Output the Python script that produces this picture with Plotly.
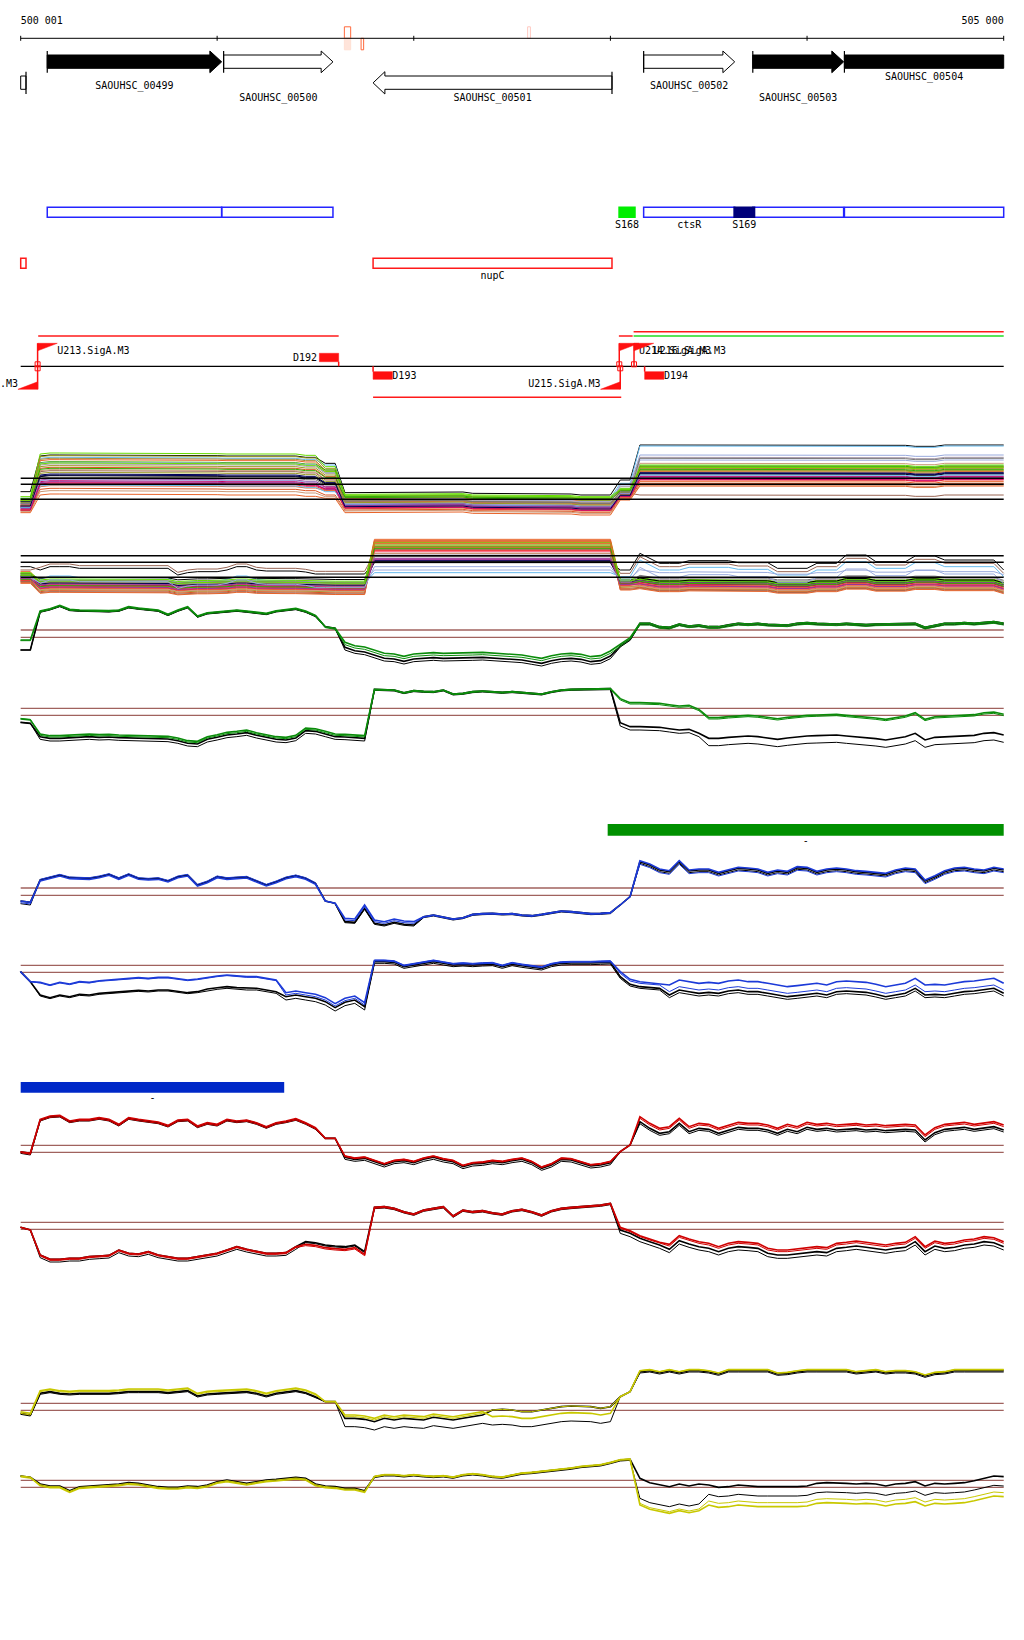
import plotly.graph_objects as go

W, H = 1024, 1640

# ============================ DATA ============================
VIEW_START, VIEW_END = 500001, 505000
RULER_TICKS = [500001, 501000, 502000, 503000, 504000, 505000]

MARK_STARTS = [501647, 501647, 501732, 502579]
MARK_ENDS = [501679, 501679, 501745, 502593]
MARK_SIDES = ["+", "-", "-", "+"]

GENE_NAMES = ["", "SAOUHSC_00499", "SAOUHSC_00500", "SAOUHSC_00501",
              "SAOUHSC_00502", "SAOUHSC_00503", "SAOUHSC_00504"]
GENE_STARTS = [499400, 500136, 501033, 501793, 503169, 503724, 504190]
GENE_ENDS = [500028, 501023, 501589, 503008, 503632, 504186, 505600]
GENE_STRANDS = ["-", "+", "+", "-", "+", "+", "+"]
GENE_FILLED = [False, True, False, False, False, True, True]

FEAT_NAMES = ["", "", "ctsR", "", "", "", "nupC", "S168", "S169"]
FEAT_STARTS = [500136, 501023, 503169, 503724, 504190, 499900, 501793, 503044, 503629]
FEAT_ENDS = [501023, 501589, 503632, 504186, 505600, 500028, 503008, 503125, 503733]
FEAT_KINDS = ["cds", "cds", "cds", "cds", "cds", "rna", "rna", "srna_a", "srna_b"]

TSS_POS = [500087, 500087, 503045, 503050, 503120]
TSS_STRAND = ["+", "-", "+", "-", "+"]
TSS_NAMES = ["U213.SigA.M3", "U212.SigA.M3", "U214.SigA.M3", "U215.SigA.M3", "U216.SigA.M3"]

TERM_POS = [501618, 501793, 503174]
TERM_STRAND = ["+", "-", "-"]
TERM_NAMES = ["D192", "D193", "D194"]

TU_STARTS = [500090, 501793, 503043, 503118, 503118]
TU_ENDS = [501618, 503055, 503113, 505000, 505000]
TU_LEVEL = [1, -1, 1, 2, 1]
TU_SOURCE = ["a", "a", "a", "a", "b"]

SIG_BAR_STARTS = [502986, 500001]
SIG_BAR_ENDS = [505000, 501341]
SIG_BAR_LABELS = ["-", "-"]

# signal bins (50 bp)
BIN_X = [500000 + 50 * i for i in range(101)]

G1_BASE = [70, 70, 185, 192, 202, 190, 188, 187, 185, 186,
           188, 198, 194, 190, 188, 175, 188, 198, 170, 180,
           182, 184, 188, 185, 182, 178, 186, 190, 193, 185,
           172, 140, 135, 78, 68, 64, 55, 45, 43, 36,
           43, 46, 47, 45, 45, 45, 47, 48, 46, 45,
           44, 40, 35, 30, 38, 43, 45, 42, 35, 38,
           52, 82, 102, 150, 150, 140, 138, 148, 142, 145,
           140, 140, 146, 150, 148, 150, 147, 146, 145, 150,
           152, 150, 148, 148, 150, 147, 146, 148, 148, 150,
           150, 150, 138, 145, 150, 150, 152, 150, 153, 155,
           150]
G1_EDGES = [2, 31, 33, 61, 63]
G1_OFFSETS = [[0, 0, 0, 0, 0, 0], [0, -2, 0, -8, -3, -4],
              [28, -1, -3, 8, 0, -5], [30, 2, 0, 15, 5, 0]]
G1_THRESH = [130, 108]

G2_BASE = [103, 100, 60, 55, 55, 56, 58, 60, 58, 59,
           57, 56, 55, 55, 54, 53, 48, 40, 38, 52,
           58, 65, 68, 72, 64, 58, 52, 50, 56, 78,
           76, 68, 60, 59, 57, 55, 202, 200, 200, 192,
           198, 196, 195, 200, 188, 190, 195, 197, 194, 193,
           195, 192, 190, 188, 195, 200, 202, 202, 202, 203,
           204, 102, 90, 90, 90, 88, 84, 80, 82, 70,
           55, 55, 58, 60, 62, 60, 56, 52, 56, 60,
           62, 63, 64, 65, 62, 60, 57, 54, 50, 54,
           60, 70, 50, 58, 60, 60, 62, 64, 70, 72,
           65]
G2_EDGES = [2, 36, 61, 70]
G2_OFFSETS = [[0, 0, 0, 0, 0], [0, -8, -3, -10, -22],
              [12, 4, -2, 68, 58], [10, 8, 0, 72, 62]]
G2_THRESH = [145, 124]

B1_BASE = [142, 138, 205, 212, 220, 212, 212, 210, 215, 222,
           210, 222, 210, 208, 210, 202, 215, 220, 190, 200,
           215, 210, 212, 214, 202, 190, 200, 212, 218, 210,
           195, 142, 135, 80, 78, 120, 75, 70, 78, 72,
           70, 95, 100, 95, 88, 92, 102, 104, 105, 103,
           104, 100, 98, 102, 106, 112, 110, 108, 104, 105,
           107, 130, 155, 260, 250, 235, 230, 260, 232, 235,
           235, 225, 232, 240, 238, 235, 225, 232, 228, 242,
           240, 228, 235, 238, 235, 230, 228, 225, 222, 232,
           238, 235, 202, 215, 230, 238, 240, 235, 232, 240,
           235]
B1_EDGES = [2, 31, 33, 41, 61, 63]
B1_OFFSETS = [[0, 0, 0, 0, 0, 0, 0], [-8, 0, 0, -3, -3, 0, -5],
              [-5, 2, 0, 5, -2, 0, -8], [0, -3, 0, 10, 0, 0, 3]]
B1_THRESH = [181, 159]

B2_BASE = [130, 100, 60, 52, 60, 55, 62, 60, 65, 67,
           70, 72, 74, 72, 75, 75, 72, 67, 70, 78,
           82, 85, 82, 80, 80, 75, 70, 55, 60, 55,
           50, 40, 22, 38, 45, 25, 160, 160, 158, 145,
           150, 155, 160, 155, 150, 152, 150, 152, 153, 145,
           153, 148, 145, 140, 150, 155, 156, 155, 156, 157,
           158, 115, 92, 85, 82, 80, 60, 75, 70, 65,
           68, 65, 72, 75, 70, 70, 65, 60, 55, 58,
           62, 65, 60, 70, 72, 70, 68, 62, 55, 60,
           65, 80, 60, 62, 60, 65, 70, 72, 75, 80,
           65]
B2_EDGES = [2, 19, 27, 36, 61, 66]
B2_OFFSETS = [[0, 0, 0, 0, 0, 0, 0], [0, -3, -5, -10, -5, -5, -8],
              [0, 36, 33, 5, 5, 10, 10], [0, 38, 35, 12, 3, 15, 30]]
B2_THRESH = [149, 128]

R1_BASE = [105, 100, 200, 210, 212, 195, 200, 200, 205, 200,
           185, 205, 200, 195, 192, 182, 198, 200, 180, 190,
           185, 200, 195, 198, 190, 178, 190, 195, 202, 190,
           175, 145, 145, 88, 82, 85, 75, 65, 75, 78,
           72, 82, 88, 80, 75, 60, 68, 70, 75, 72,
           78, 82, 72, 55, 65, 82, 80, 70, 62, 65,
           72, 105, 125, 195, 175, 160, 165, 190, 165, 175,
           172, 160, 170, 178, 175, 175, 170, 160, 172, 165,
           178, 172, 175, 170, 172, 174, 170, 172, 168, 170,
           172, 170, 140, 162, 172, 175, 178, 172, 175, 180,
           170]
R1_EDGES = [2, 31, 33, 61, 63]
R1_OFFSETS = [[0, 0, 0, 0, 0, 0], [-5, -3, 0, -6, 0, -6],
              [-3, -2, 0, 5, 0, 10], [0, 2, 0, 3, 0, 15]]
R1_THRESH = [124, 103]

R2_BASE = [128, 120, 45, 32, 32, 35, 35, 40, 42, 44,
           60, 50, 48, 55, 45, 40, 35, 35, 40, 45,
           50, 60, 70, 62, 55, 50, 50, 52, 70, 85,
           82, 75, 72, 70, 75, 55, 188, 190, 185, 175,
           168, 180, 185, 190, 162, 180, 175, 178, 172, 168,
           178, 182, 175, 165, 178, 185, 188, 190, 192, 195,
           200, 120, 110, 95, 85, 75, 62, 88, 78, 70,
           65, 55, 65, 70, 68, 65, 50, 45, 45, 48,
           52, 55, 52, 65, 68, 72, 68, 65, 60, 65,
           68, 85, 55, 72, 65, 68, 75, 78, 85, 82,
           70]
R2_EDGES = [2, 29, 36, 61, 66]
R2_OFFSETS = [[0, 0, 0, 0, 0, 0], [0, -8, -3, -4, -10, -10],
              [0, -3, -12, -3, 5, 10], [0, 0, -8, 0, 8, 15]]
R2_THRESH = [143, 122]

Y1_BASE = [90, 85, 150, 155, 150, 148, 150, 150, 148, 150,
           152, 155, 155, 155, 155, 152, 155, 158, 142, 148,
           150, 152, 155, 155, 150, 142, 150, 155, 158, 152,
           140, 125, 125, 75, 75, 72, 65, 75, 70, 75,
           72, 70, 78, 75, 70, 75, 80, 85, 100, 102,
           100, 95, 95, 100, 105, 110, 112, 112, 110, 105,
           110, 140, 155, 215, 218, 212, 218, 212, 218, 218,
           215, 208, 218, 218, 218, 218, 218, 208, 210, 215,
           218, 218, 218, 218, 218, 212, 215, 218, 212, 215,
           215, 212, 202, 210, 212, 218, 218, 218, 218, 218,
           218]
Y1_EDGES = [2, 31, 33, 48, 61, 63]
Y1_OFFSETS = [[0, 0, 0, 0, 0, 0, 0], [-3, -3, 0, -25, -45, 0, -4],
              [0, 5, 0, 5, 0, 0, 3], [5, 8, 0, 10, -20, 0, 3]]
Y1_THRESH = [120, 99]

Y2_BASE = [152, 148, 128, 122, 122, 108, 120, 122, 125, 125,
           128, 132, 130, 125, 120, 118, 118, 122, 120, 125,
           135, 140, 135, 130, 135, 140, 142, 145, 148, 145,
           128, 122, 120, 115, 115, 108, 150, 155, 155, 152,
           155, 152, 150, 152, 148, 155, 158, 155, 150, 148,
           155, 160, 162, 165, 168, 172, 175, 180, 182, 185,
           192, 200, 202, 145, 132, 125, 120, 128, 122, 128,
           125, 118, 120, 125, 122, 120, 120, 120, 118, 120,
           122, 130, 132, 132, 130, 128, 130, 128, 122, 128,
           130, 135, 122, 130, 128, 130, 132, 138, 145, 152,
           150]
Y2_EDGES = [2, 36, 63, 70]
Y2_OFFSETS = [[0, 0, 0, 0, 0], [0, -3, -3, -60, -28],
              [-3, -2, 2, -75, -48], [0, -5, 0, -80, -60]]
Y2_THRESH = [139, 118]

# multi-sample tracks: shared wiggle + per-sample segment levels
T1_WIGGLE = [0, 0, 0, 3, 3, 3, 3, 3, 3, 3, 3, 1, 1, 1, 1, 1, 1, 1, 1, 1, 1,
             0, 0, 0, 0, 0, 0, 0, 0, -4, -4, 0, 0, 2, 2, 2, 2, 2, 2,
             4, 4, 4, 4, 4, 4, 4, 0, 0, 0, 0, 0, 0, 0, -2, -2, -2, -2,
             -5, -5, -5, -5, 0, 0, 0, 0, 0, 0, 0, 0, 0, 0, 0, 0, 0, 0, 0,
             -1, -1, -1, -1, -1, -1, -1, -1, -1, -1, -1, -1, -1, -1, -1,
             -4, -4, -4, 0, 0, 0, 0, 0, 0, 0]
T1_EDGES = [2, 31, 33, 61, 63]
T1_LEVELS = [
    [115, 222, 200, 110, 150, 255], [95, 215, 195, 100, 140, 252],
    [100, 228, 190, 105, 125, 195], [90, 220, 185, 100, 120, 190],
    [85, 212, 180, 95, 115, 185], [88, 208, 175, 92, 118, 188],
    [92, 202, 180, 98, 122, 192], [80, 200, 172, 90, 135, 225],
    [78, 195, 170, 88, 130, 218], [82, 190, 165, 85, 112, 180],
    [75, 185, 160, 82, 110, 175], [72, 175, 150, 85, 110, 105],
    [70, 178, 152, 80, 108, 200], [85, 165, 140, 75, 110, 172],
    [68, 160, 138, 72, 105, 168], [75, 150, 130, 70, 105, 162],
    [70, 145, 128, 75, 108, 160], [65, 148, 125, 78, 110, 210],
    [72, 140, 122, 68, 102, 155], [62, 135, 120, 65, 100, 150],
    [60, 130, 118, 62, 98, 145], [68, 132, 115, 74, 104, 165],
    [58, 122, 105, 58, 95, 140], [55, 115, 100, 55, 92, 135],
    [52, 105, 95, 50, 90, 132], [80, 155, 135, 85, 115, 215],
    [95, 182, 158, 95, 118, 182], [88, 198, 175, 102, 122, 188],
    [74, 170, 145, 80, 105, 178], [64, 142, 122, 72, 102, 158],
    [60, 138, 124, 64, 100, 152], [72, 162, 142, 68, 104, 170],
]
T1_THRESH = [155, 137, 92]

T2_WIGGLE = [0, 0, 0, 10, 10, 10, 5, 5, 5, 5, 5, 5, 5, 5, 5, 5, -15, -8, -5, -5, -5,
             0, 10, 10, 0, -3, -3, -3, -3, -6, -12, -12, -12, -12, -12, -12,
             0, 0, 0, 0, 0, 0, 0, 0, 0, 0, 0, 0, 0, 0, 0, 0, 0, 0, 0, 0,
             0, 0, 0, 0, 0, 0, 0,
             20, 5, -10, -10, -10, -2, -2, -2, -2, -2, -8, -8, -8, -8,
             -25, -25, -25, -25, -10, -10, -10, 15, 15, 15, -5, -5, -5, -5,
             12, 12, 12, 0, 0, 0, 0, 0, 0, -30]
T2_EDGES = [2, 36, 61, 63]
T2_LEVELS = [
    [140, 130, 155, 130, 160], [130, 138, 180, 120, 150], [120, 102, 122, 110, 140],
    [115, 98, 130, 105, 125], [125, 90, 222, 100, 95], [120, 95, 212, 98, 100],
    [122, 100, 205, 102, 102], [115, 88, 208, 95, 90], [110, 82, 218, 92, 88],
    [118, 92, 200, 100, 98], [105, 80, 195, 90, 85], [102, 78, 190, 88, 82],
    [100, 75, 185, 85, 80], [108, 85, 165, 92, 92], [104, 82, 160, 90, 88],
    [110, 88, 158, 95, 95], [112, 105, 152, 98, 100], [106, 92, 175, 94, 105],
    [98, 72, 210, 80, 78], [95, 68, 202, 78, 74], [92, 65, 198, 75, 72],
    [95, 62, 192, 72, 70], [100, 70, 180, 82, 76], [110, 95, 170, 95, 108],
    [114, 94, 214, 98, 96], [98, 74, 188, 84, 84], [90, 60, 215, 70, 68],
    [102, 80, 195, 88, 90], [104, 76, 162, 86, 82], [110, 90, 140, 100, 118],
]
T2_THRESH = [173, 153, 108]

# ============================ STYLE / LAYOUT ============================
FONT = dict(family="DejaVu Sans Mono", size=10, color="black")
PX_LEFT, PX_RIGHT = 20.7, 1003.7
BP_PER_PX = (VIEW_END - VIEW_START) / (PX_RIGHT - PX_LEFT)
X_RANGE = [VIEW_START - PX_LEFT * BP_PER_PX, VIEW_END + (W - PX_RIGHT) * BP_PER_PX]

RULER_Y, TICK_H, MARK_H, RULER_LABEL_Y = 38.3, 2.5, 11.5, 21
MARK_LINE = ["#ff6a3d", "#ffe0d4", "#ff6a3d", "#ffc8c0"]
MARK_FILL = ["rgba(0,0,0,0)", "#ffe4da", "rgba(0,0,0,0)", "rgba(0,0,0,0)"]

GENE_ROWS = {"+": (55, 68.3, 51, 72.7), "-": (76, 89.3, 71.7, 94)}
GENE_LABEL_ROW = [0, 1, 2, 2, 1, 2, 0]
GENE_LABEL_Y = [77.5, 86, 98.5]
HEAD_BP = 60

FEAT_STYLE = {"cds": (0, "#2424ff", "rgba(0,0,0,0)"),
              "rna": (1, "#ff1a1a", "rgba(0,0,0,0)"),
              "srna_a": (0, "#00ee00", "#00ee00"),
              "srna_b": (0, "#00007a", "#00007a")}
FEAT_ROW_Y = {0: (207.3, 217.3), 1: (258.3, 268.3)}
FEAT_LABEL_Y = {0: 225.5, 1: 276}

TSS_LINE_Y = 366.3
FLAG_TOP, FLAG_BOT, FLAG_H, FLAG_BP = 343.3, 389.3, 7.5, 100
TSS_LABEL_Y = {"+": 351, "-": 384.3}
TERM_BOX = {"+": (353.3, 361.7), "-": (371.7, 379.3)}
TERM_LABEL_Y = {"+": 358.7, "-": 376.7}
TERM_BP = 98
TU_ROW_Y = {1: 336, 2: 331.7, -1: 397.3}
TU_COLOR = {"a": "#ff1a1a", "b": "#22dd22"}
SIG_BAR_Y = [(824, 835.7), (1082, 1092.7)]
SIG_BAR_COLOR = ["#009000", "#0028c8"]
SIG_BAR_LABEL_Y = [841.5, 1098.8]

RED = "#ff1010"
THRESH_C = "#a0625e"
BLOCK = {"G": "#0a8c0a", "B": "#1c3ad8", "R": "#d00000", "Y": "#c8c800"}

TRACKS = [  # name, top px, bottom px, y-range
    ("T1", 435, 522, [24, 285]), ("T2", 530, 600, [40, 250]),
    ("G1", 595, 672, [4, 235]), ("G2", 675, 755, [5, 245]),
    ("B1", 850, 935, [40, 295]), ("B2", 945, 1015, [0, 210]),
    ("R1", 1105, 1180, [20, 245]), ("R2", 1195, 1270, [0, 225]),
    ("Y1", 1362, 1442, [4, 244]), ("Y2", 1450, 1520, [20, 230]),
]

T1_COLORS = ["#000000", "#66bbee", "#66dd00", "#999922", "#aa8833", "#e8642a",
             "#33aa00", "#99aadd", "#aa99aa", "#999922", "#dd5522", "#996655",
             "#cc9977", "#000055", "#000000", "#993399", "#cc0066", "#99aadd",
             "#ff6688", "#ee3333", "#e8642a", "#66bbee", "#dd5522", "#cc9977",
             "#e8642a", "#777777", "#33aa00", "#66dd00", "#999922", "#993399",
             "#cc0066", "#000055"]
T2_COLORS = ["#000000", "#996655", "#66bbee", "#99aadd", "#e8642a", "#999922",
             "#66dd00", "#aa8833", "#dd5522", "#33aa00", "#cc9977", "#ee3333",
             "#ff6688", "#993399", "#cc0066", "#000055", "#000000", "#aa99aa",
             "#e8642a", "#999922", "#dd5522", "#996655", "#cc9977", "#777777",
             "#66dd00", "#ee3333", "#e8642a", "#33aa00", "#993399", "#99aadd"]
T2_GAIN = [1, 1, 1] + [0.3] * 26 + [1]

# ============================ BUILD ============================
fig = go.Figure()
A = dict(xaxis="x", yaxis="y", hoverinfo="skip", showlegend=False)
shapes = []


def seg(i, edges):
    return sum(1 for e in edges if i >= e)


def add_text(x, y, text, pos):
    fig.add_trace(go.Scatter(x=x, y=y, text=text, mode="text", textposition=pos,
                             textfont=FONT, **A))


def add_lines(xs, ys, color, width=1, fill=None, fillcolor=None, yaxis="y"):
    kw = dict(A)
    kw["yaxis"] = yaxis
    fig.add_trace(go.Scatter(x=xs, y=ys, mode="lines", line=dict(color=color, width=width),
                             fill=fill, fillcolor=fillcolor, **kw))


# ---- ruler ----
add_lines([VIEW_START, VIEW_END], [RULER_Y, RULER_Y], "black")
tx, ty = [], []
for t in RULER_TICKS:
    tx += [t, t, None]
    ty += [RULER_Y - TICK_H, RULER_Y + TICK_H, None]
add_lines(tx, ty, "black")
fmt = lambda v: f"{v:,}".replace(",", " ")
add_text([VIEW_START], [RULER_LABEL_Y], [fmt(VIEW_START)], "middle right")
add_text([VIEW_END], [RULER_LABEL_Y], [fmt(VIEW_END)], "middle left")
for s, e, side, lc, fc in zip(MARK_STARTS, MARK_ENDS, MARK_SIDES, MARK_LINE, MARK_FILL):
    y0, y1 = (RULER_Y - MARK_H, RULER_Y) if side == "+" else (RULER_Y, RULER_Y + MARK_H)
    shapes.append(dict(type="rect", xref="x", yref="y", x0=s, x1=e, y0=y0, y1=y1,
                       line=dict(color=lc, width=1), fillcolor=fc, layer="below"))

# ---- genes ----
bx, by = [], []
lx, ly, lt = [], [], []
for name, s, e, st, filled, lrow in zip(GENE_NAMES, GENE_STARTS, GENE_ENDS, GENE_STRANDS,
                                        GENE_FILLED, GENE_LABEL_ROW):
    bt, bb, ht, hb = GENE_ROWS[st]
    mid = (ht + hb) / 2
    s_c, e_c = max(s, VIEW_START), min(e, VIEW_END)
    if st == "+":
        if e <= VIEW_END:
            h = e - HEAD_BP
            xs = [s_c, h, h, e, h, h, s_c, s_c]
            ys = [bt, bt, ht, mid, hb, bb, bb, bt]
        else:
            xs = [s_c, e_c, e_c, s_c, s_c]
            ys = [bt, bt, bb, bb, bt]
        bar = s if s >= VIEW_START else None
    else:
        if s >= VIEW_START:
            h = s + HEAD_BP
            xs = [e_c, h, h, s, h, h, e_c, e_c]
            ys = [bt, bt, ht, mid, hb, bb, bb, bt]
        else:
            xs = [s_c, e_c, e_c, s_c, s_c]
            ys = [bt, bt, bb, bb, bt]
        bar = e if e <= VIEW_END else None
    add_lines(xs, ys, "black", 1, fill="toself", fillcolor="black" if filled else "white")
    if bar is not None:
        bx += [bar, bar, None]
        by += [ht, hb, None]
    if name:
        lx.append((s_c + e_c) / 2)
        ly.append(GENE_LABEL_Y[lrow])
        lt.append(name)
add_lines(bx, by, "black", 1.2)
add_text(lx, ly, lt, "middle center")

# ---- features ----
lx, ly, lt = [], [], []
for name, s, e, k in zip(FEAT_NAMES, FEAT_STARTS, FEAT_ENDS, FEAT_KINDS):
    row, lc, fc = FEAT_STYLE[k]
    y0, y1 = FEAT_ROW_Y[row]
    s_c, e_c = max(s, VIEW_START), min(e, VIEW_END)
    shapes.append(dict(type="rect", xref="x", yref="y", x0=s_c, x1=e_c, y0=y0, y1=y1,
                       line=dict(color=lc, width=1.5), fillcolor=fc))
    if name:
        lx.append((s_c + e_c) / 2)
        ly.append(FEAT_LABEL_Y[row])
        lt.append(name)
add_text(lx, ly, lt, "middle center")

# ---- TSS / terminators ----
add_lines([VIEW_START, VIEW_END], [TSS_LINE_Y, TSS_LINE_Y], "black", 1.2)
for s, e, lvl, src in zip(TU_STARTS, TU_ENDS, TU_LEVEL, TU_SOURCE):
    add_lines([s, e], [TU_ROW_Y[lvl]] * 2, TU_COLOR[src], 1.5)
sx, sy = [], []
for p, st, name in zip(TSS_POS, TSS_STRAND, TSS_NAMES):
    if st == "+":
        add_lines([p, p + FLAG_BP, p, p], [FLAG_TOP, FLAG_TOP, FLAG_TOP + FLAG_H, FLAG_TOP],
                  RED, 0.5, fill="toself", fillcolor=RED)
        sx += [p, p, None]
        sy += [TSS_LINE_Y, FLAG_TOP, None]
        add_text([p + FLAG_BP], [TSS_LABEL_Y["+"]], [name], "middle right")
    else:
        add_lines([p, p - FLAG_BP, p, p], [FLAG_BOT, FLAG_BOT, FLAG_BOT - FLAG_H, FLAG_BOT],
                  RED, 0.5, fill="toself", fillcolor=RED)
        sx += [p, p, None]
        sy += [TSS_LINE_Y, FLAG_BOT, None]
        add_text([p - FLAG_BP], [TSS_LABEL_Y["-"]], [name], "middle left")
for p, st, name in zip(TERM_POS, TERM_STRAND, TERM_NAMES):
    y0, y1 = TERM_BOX[st]
    if st == "+":
        x0, x1 = p - TERM_BP, p
        sx += [p, p, None]
        sy += [y1, TSS_LINE_Y, None]
        add_text([x0 - 12], [TERM_LABEL_Y["+"]], [name], "middle left")
    else:
        x0, x1 = p, p + TERM_BP
        sx += [p, p, None]
        sy += [TSS_LINE_Y, y0, None]
        add_text([x1], [TERM_LABEL_Y["-"]], [name], "middle right")
    add_lines([x0, x1, x1, x0, x0], [y0, y0, y1, y1, y0], RED, 0.5, fill="toself", fillcolor=RED)
add_lines(sx, sy, RED, 1.5)
fig.add_trace(go.Scatter(x=TSS_POS, y=[364.3 if s == "+" else 368.3 for s in TSS_STRAND],
                         mode="markers", marker=dict(symbol="square-open", size=5, color=RED,
                                                     line=dict(width=1, color=RED)), **A))

# ---- significance bars ----
for s, e, (y0, y1), c, lab, ly_ in zip(SIG_BAR_STARTS, SIG_BAR_ENDS, SIG_BAR_Y, SIG_BAR_COLOR,
                                        SIG_BAR_LABELS, SIG_BAR_LABEL_Y):
    shapes.append(dict(type="rect", xref="x", yref="y", x0=s, x1=e, y0=y0, y1=y1,
                       line=dict(width=0), fillcolor=c))
    add_text([(s + e) / 2], [ly_], [lab], "middle center")

# ---- signal tracks ----
axis_of = {name: f"y{k + 2}" for k, (name, _, _, _) in enumerate(TRACKS)}

for levels, col, gain_list, edges, wig, thr, name in [
    (T1_LEVELS, T1_COLORS, [1] * len(T1_LEVELS), T1_EDGES, T1_WIGGLE, T1_THRESH, "T1"),
    (T2_LEVELS, T2_COLORS, T2_GAIN, T2_EDGES, T2_WIGGLE, T2_THRESH, "T2"),
]:
    ya = axis_of[name]
    for lev, c, g in zip(levels, col, gain_list):
        ys = [lev[seg(i, edges)] + g * w for i, w in enumerate(wig)]
        add_lines(BIN_X[:len(ys)], ys, c, 1, yaxis=ya)
    for t in thr:
        add_lines([VIEW_START, VIEW_END], [t, t], "black", 1.5, yaxis=ya)

PAIRED = [
    ("G1", G1_BASE, G1_EDGES, G1_OFFSETS, G1_THRESH, BLOCK["G"]),
    ("G2", G2_BASE, G2_EDGES, G2_OFFSETS, G2_THRESH, BLOCK["G"]),
    ("B1", B1_BASE, B1_EDGES, B1_OFFSETS, B1_THRESH, BLOCK["B"]),
    ("B2", B2_BASE, B2_EDGES, B2_OFFSETS, B2_THRESH, BLOCK["B"]),
    ("R1", R1_BASE, R1_EDGES, R1_OFFSETS, R1_THRESH, BLOCK["R"]),
    ("R2", R2_BASE, R2_EDGES, R2_OFFSETS, R2_THRESH, BLOCK["R"]),
    ("Y1", Y1_BASE, Y1_EDGES, Y1_OFFSETS, Y1_THRESH, BLOCK["Y"]),
    ("Y2", Y2_BASE, Y2_EDGES, Y2_OFFSETS, Y2_THRESH, BLOCK["Y"]),
]
LINE_STYLE = [("black", 1.6), ("black", 1), (None, 1), (None, 1.6)]
for name, base, edges, offs, thr, color in PAIRED:
    ya = axis_of[name]
    for t in thr:
        add_lines([VIEW_START, VIEW_END], [t, t], THRESH_C, 1.3, yaxis=ya)
    for (c, wdt), off in zip(LINE_STYLE, offs):
        ys = [b + off[seg(i, edges)] for i, b in enumerate(base)]
        add_lines(BIN_X[:len(ys)], ys, c or color, wdt, yaxis=ya)

# ---- layout ----
layout = dict(
    width=W, height=H, margin=dict(l=0, r=0, t=0, b=0),
    paper_bgcolor="white", plot_bgcolor="rgba(0,0,0,0)",
    showlegend=False, hovermode=False, shapes=shapes,
    xaxis=dict(range=X_RANGE, visible=False, fixedrange=True),
    yaxis=dict(range=[H, 0], domain=[0, 1], visible=False, fixedrange=True),
)
for k, (name, top, bottom, rng) in enumerate(TRACKS):
    layout[f"yaxis{k + 2}"] = dict(domain=[1 - bottom / H, 1 - top / H], range=rng,
                                   visible=False, anchor="x", fixedrange=True)
fig.update_layout(**layout)
fig.write_html("out.html", config={"displayModeBar": False},
               post_script="document.body.style.margin='0px';")
